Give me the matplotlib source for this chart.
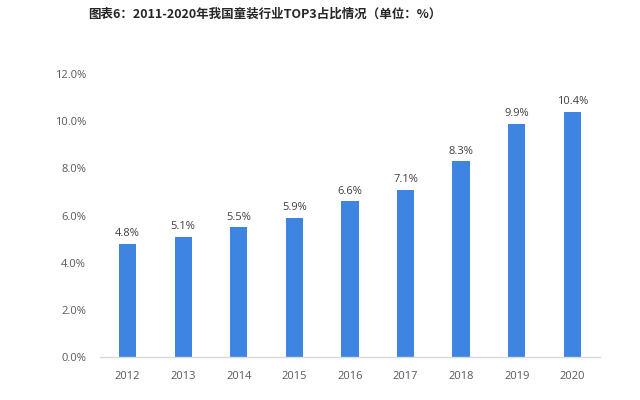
import matplotlib
matplotlib.use("Agg")
import matplotlib.pyplot as plt
from matplotlib.ticker import FuncFormatter

plt.rcParams['font.family'] = ['Noto Sans CJK SC', 'DejaVu Sans']

years = ["2012", "2013", "2014", "2015", "2016", "2017", "2018", "2019", "2020"]
values = [4.8, 5.1, 5.5, 5.9, 6.6, 7.1, 8.3, 9.9, 10.4]
yticks = [0, 2, 4, 6, 8, 10, 12]
title = "图表6：2011-2020年我国童装行业TOP3占比情况（单位：%）"

fig = plt.figure(figsize=(6.4, 4.0), dpi=100)
ax = fig.add_axes([0.156, 0.1075, 0.7815, 0.7075])
x = range(len(years))
ax.bar(x, values, width=0.31, color="#3D85E0")
for xi, v in zip(x, values):
    ax.text(xi, v + 0.2, f"{v:.1f}%", ha="center", va="bottom", fontsize=8, color="#404040",
            family=["Open Sans", "DejaVu Sans"])
ax.set_xlim(-0.5, len(years) - 0.5)
ax.set_ylim(0, 12)
ax.set_yticks(yticks)
ax.yaxis.set_major_formatter(FuncFormatter(lambda v, p: f"{v:.1f}%"))
ax.set_xticks(list(x))
ax.set_xticklabels(years)
for lbl in ax.get_xticklabels() + ax.get_yticklabels():
    lbl.set_family(["Open Sans", "DejaVu Sans"])
    lbl.set_fontsize(8)
    lbl.set_color("#595959")
ax.tick_params(axis="both", length=0)
ax.tick_params(axis="x", pad=10)
ax.tick_params(axis="y", pad=10)
for s in ["top", "right", "left"]:
    ax.spines[s].set_visible(False)
ax.spines["bottom"].set_color("#D9D9D9")
ax.spines["bottom"].set_linewidth(1)

fig.text(88 / 640, 1 - 14 / 400, title, ha="left", va="center", fontsize=9,
         fontweight="bold", color="#262626")

fig.savefig("out.png", dpi=100, facecolor="white")
